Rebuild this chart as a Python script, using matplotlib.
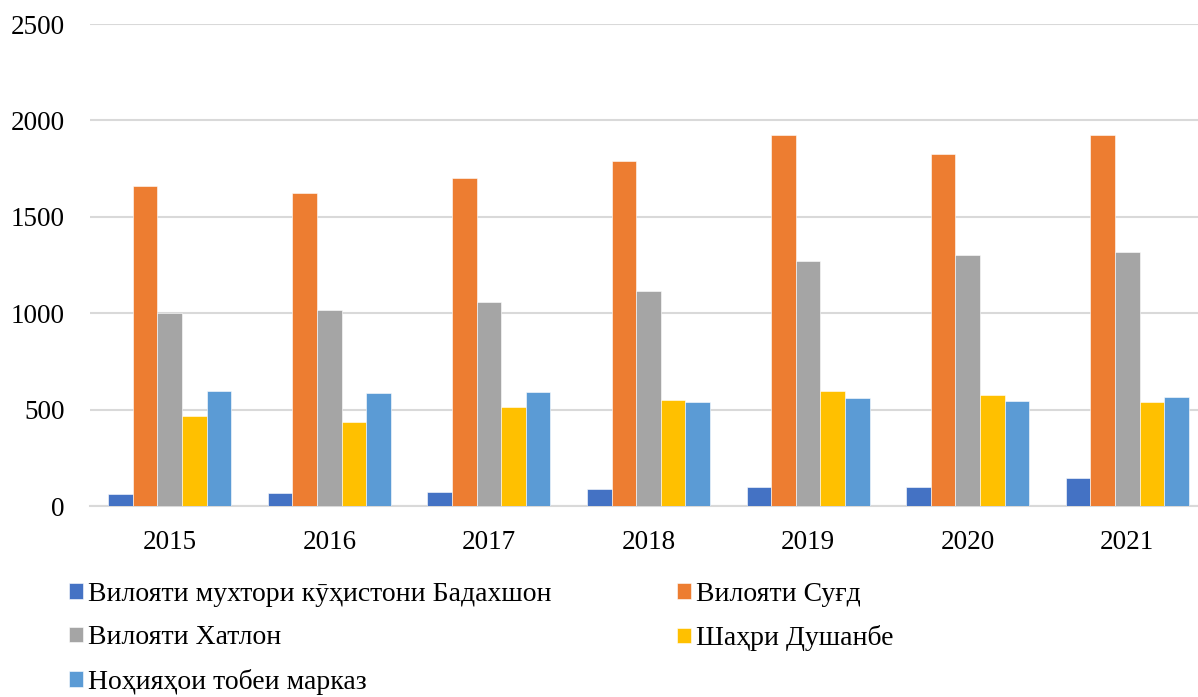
import numpy as np
import matplotlib
matplotlib.use("Agg")
import matplotlib.pyplot as plt

plt.rcParams['font.family'] = ['Liberation Serif', 'DejaVu Serif']

# data
years = ['2015', '2016', '2017', '2018', '2019', '2020', '2021']
series_names = [
    'Вилояти мухтори кӯҳистони Бадахшон',
    'Вилояти Суғд',
    'Вилояти Хатлон',
    'Шаҳри Душанбе',
    'Ноҳияҳои тобеи марказ',
]
badakhshon = [61, 65, 74, 88, 100, 97, 147]
sughd = [1659, 1622, 1703, 1792, 1922, 1828, 1926]
khatlon = [999, 1015, 1060, 1117, 1269, 1304, 1320]
dushanbe = [469, 437, 516, 551, 599, 576, 537]
nohiyaho = [597, 586, 592, 539, 560, 544, 567]
yticks = [0, 500, 1000, 1500, 2000, 2500]

colors = ['#4472C4', '#ED7D31', '#A5A5A5', '#FFC000', '#5B9BD5']
values = [badakhshon, sughd, khatlon, dushanbe, nohiyaho]

fig = plt.figure(figsize=(11.98, 6.97), dpi=100)
ax = fig.add_axes([90 / 1198, 1 - 506 / 697, 1117 / 1198, 482 / 697])

x = np.arange(len(years))
n = len(values)
bw = 0.77 / n
handles = []
for i, (vals, col, name) in enumerate(zip(values, colors, series_names)):
    offs = (i - (n - 1) / 2) * bw
    b = ax.bar(x + offs, vals, width=bw, color=col, edgecolor='white',
               linewidth=0.4, label=name, zorder=3)
    handles.append(b)

ax.set_xlim(-0.5, len(years) - 0.5)
ax.set_ylim(0, 2500)
ax.set_yticks(yticks)
ax.set_xticks(x)
ax.set_xticklabels(years)
ax.tick_params(axis='both', length=0, labelsize=19.5)
ax.tick_params(axis='y', pad=18)
ax.tick_params(axis='x', pad=17)
ax.grid(axis='y', color='#d9d9d9', linewidth=1.5, zorder=0)
for s in ['top', 'right', 'left']:
    ax.spines[s].set_visible(False)
ax.spines['bottom'].set_color('#d9d9d9')
ax.spines['bottom'].set_linewidth(1.5)

order = [0, 2, 4, 1, 3]
fig.legend([handles[i] for i in order], [series_names[i] for i in order],
           ncol=2, loc='upper left', bbox_to_anchor=(69 / 1198, 1 - 582 / 697),
           frameon=False, fontsize=20, handlelength=0.5, handleheight=0.5,
           handletextpad=0.2, columnspacing=4.5, labelspacing=0.66, borderpad=0,
           borderaxespad=0)

fig.savefig('out.png', dpi=100)
